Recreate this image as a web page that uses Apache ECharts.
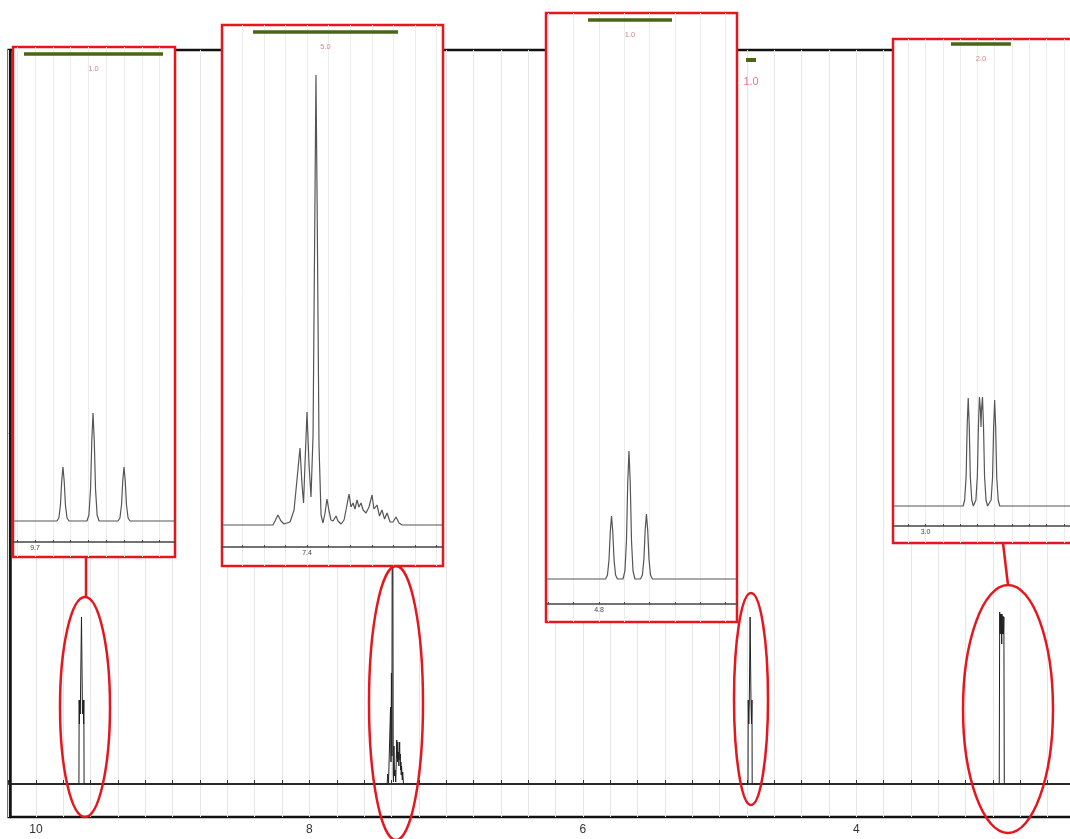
<!DOCTYPE html>
<html><head><meta charset="utf-8">
<script src="https://cdn.jsdelivr.net/npm/echarts@6/dist/echarts.min.js"></script>
<style>html,body{margin:0;padding:0;background:#fff}#c{width:1070px;height:839px}</style>
</head><body><div id="c"></div>
<script>
// ---------- data ----------
const mainTickLabels = [10, 8, 6, 4];
const mainRange = [10.2, 2.4];
const mainYRange = [-33, 734];

const mainSpectrum = [
  [10.2,0],
  [9.6860,0],[9.6843,84],[9.6826,60],[9.6800,84],[9.6760,70],[9.6674,167],[9.6600,70],[9.6550,84],[9.6517,60],[9.6500,84],[9.6483,0],
  [7.4315,0],[7.4269,10],[7.4213,1],[7.4157,3],[7.4065,77],[7.4032,22],[7.4000,111],[7.3963,28],[7.3917,450],[7.3870,10],[7.3852,2],[7.3815,38],[7.3778,8],[7.3731,14],[7.3685,2],[7.3611,44],[7.3593,26],[7.3574,32],[7.3556,22],[7.3537,42],[7.3519,25],[7.3500,32],[7.3454,18],[7.3398,42],[7.3380,24],[7.3352,30],[7.3329,14],[7.3306,22],[7.3282,9],[7.3259,18],[7.3204,4],[7.3176,12],[7.3120,0],
  [4.7915,0],[4.7901,84],[4.7860,60],[4.7820,84],[4.7763,167],[4.7700,84],[4.7660,60],[4.7625,84],[4.7611,0],
  [2.9540,0],[2.9506,172],[2.9470,150],[2.9441,170],[2.9400,150],[2.9376,170],[2.9358,140],[2.9341,170],[2.9300,150],[2.9270,168],[2.9230,150],[2.9200,167],[2.9170,0],
  [2.4,0]
];

const inset1Spectrum = [
  [9.71236,0],[9.6877,0],[9.6866,3],[9.6857,16],[9.6850,40],[9.6843,54],[9.6836,40],[9.6829,16],[9.6820,3],[9.6809,0],
  [9.6708,0],[9.6697,6],[9.6688,32],[9.6681,80],[9.6674,108],[9.6667,80],[9.6660,32],[9.6651,6],[9.6640,0],
  [9.6534,0],[9.6523,3],[9.6514,16],[9.6507,40],[9.6500,54],[9.6493,40],[9.6486,16],[9.6477,3],[9.6466,0],[9.62135,0]
];
const inset2Spectrum = [
  [7.4787,0],[7.4315,0],[7.4296,4],[7.4269,10],[7.4241,4],[7.4213,1],[7.4157,3],[7.4120,15],[7.4093,45],[7.4065,77],
  [7.4046,40],[7.4032,22],[7.4019,60],[7.4000,113],[7.3981,60],[7.3963,28],[7.3944,90],[7.3926,330],[7.3917,450],[7.3907,330],
  [7.3889,80],[7.3870,10],[7.3852,2],[7.3833,12],[7.3815,26],[7.3796,14],[7.3778,5],[7.3759,4],[7.3731,9],[7.3713,4],
  [7.3685,1],[7.3657,5],[7.3639,15],[7.3611,31],[7.3593,18],[7.3574,22],[7.3556,16],[7.3537,25],[7.3519,18],[7.3500,22],
  [7.3481,15],[7.3454,12],[7.3426,18],[7.3398,30],[7.3380,16],[7.3352,20],[7.3329,9],[7.3306,15],[7.3282,6],[7.3259,12],
  [7.3231,3],[7.3204,3],[7.3176,8],[7.3148,2],[7.3120,0],[7.2741,0]
];
const inset3Spectrum = [
  [4.84190,0],[4.7948,0],[4.7933,4],[4.7921,19],[4.7911,47],[4.7901,63],[4.7891,47],[4.7881,19],[4.7869,4],[4.7854,0],
  [4.7810,0],[4.7795,8],[4.7783,38],[4.7773,96],[4.7763,128],[4.7753,96],[4.7743,38],[4.7731,8],[4.7716,0],
  [4.7672,0],[4.7657,4],[4.7645,20],[4.7635,49],[4.7625,65],[4.7615,49],[4.7605,20],[4.7593,4],[4.7578,0],[4.69091,0]
];
const inset4Spectrum = [
  [3.03765,0],[2.9565,0],[2.9547,6],[2.9530,30],[2.9518,80],[2.9506,108],[2.9494,80],[2.9482,30],[2.9465,6],[2.9447,0],
  [2.9435,0],[2.9417,6],[2.9400,30],[2.9388,80],[2.9376,109],[2.9364,95],[2.9358,79],[2.9353,95],[2.9341,109],[2.9329,80],[2.9317,30],[2.9300,6],[2.9282,0],
  [2.9259,0],[2.9241,6],[2.9224,29],[2.9212,78],[2.9200,106],[2.9188,78],[2.9176,29],[2.9159,6],[2.9141,0],[2.82353,0]
];
const insetSpectra = [inset1Spectrum, inset2Spectrum, inset3Spectrum, inset4Spectrum];

const insetRanges = [[9.71236, 9.62135],[7.4787, 7.2741],[4.84190, 4.69091],[3.03765, 2.82353]];
const insetYRanges = [[-36, 474],[-41, 500],[-43, 566],[-37, 467]];
const insetTicks = [
  [9.71,9.70,9.69,9.68,9.67,9.66,9.65,9.64,9.63],
  [7.46,7.44,7.42,7.40,7.38,7.36,7.34,7.32,7.30,7.28],
  [4.84,4.82,4.80,4.78,4.76,4.74,4.72,4.70],
  [3.02,3.00,2.98,2.96,2.94,2.92,2.90,2.88,2.86,2.84]
];
const insetTickLabels = [9.7, 7.4, 4.8, 3.0];

const integralRanges = [[9.70618, 9.62809],[7.4500, 7.31574],[4.80870, 4.74229],[2.97059, 2.90118]];
const integralLevels = [467, 493, 559, 462];
const integralValues = ['1.0', '5.0', '1.0', '2.0'];
const mainIntegralRange = [4.8061, 4.7330];
const mainIntegralLevel = 724;
const mainIntegralValue = '1.0';

// ---------- layout / style ----------
const insetBoxes = [
  {left: 13, top: 47, width: 162, height: 510, axisOffset: -15},
  {left: 222, top: 25, width: 221, height: 541, axisOffset: -19},
  {left: 546, top: 13, width: 191, height: 609, axisOffset: -18},
  {left: 893, top: 39, width: 185, height: 504, axisOffset: -17}
];
const RED = '#e5161d';
const GREEN = '#4a6614';
const FONT = 'Liberation Sans';

const grids = [{left: 8.66, top: 50, width: 1066.3, height: 767, show: true, borderColor: '#111', borderWidth: 2.5,
  backgroundColor: 'transparent', z: 0, outerBoundsMode: 'none', containLabel: false}];
const xAxes = [{
  gridIndex: 0, type: 'value', inverse: true, min: mainRange[1], max: mainRange[0], interval: 0.2,
  axisLine: {show: true, lineStyle: {color: '#333', width: 2}},
  axisTick: {show: true, inside: true, length: 4, lineStyle: {color: '#333'}},
  splitLine: {show: true, lineStyle: {color: '#e6e6e6', width: 1}},
  axisLabel: {margin: 7, fontSize: 12, color: '#333', fontFamily: FONT,
    formatter: v => mainTickLabels.some(t => Math.abs(t - v) < 1e-6) ? String(Math.round(v)) : ''}
}];
const yAxes = [{gridIndex: 0, type: 'value', min: mainYRange[0], max: mainYRange[1], show: true, offset: -1.3, z: 1,
  axisLine: {show: true, onZero: false, lineStyle: {color: '#111', width: 2.5}},
  axisTick: {show: false}, axisLabel: {show: false}, splitLine: {show: false}}];
const series = [
  {type: 'line', xAxisIndex: 0, yAxisIndex: 0, data: mainSpectrum, showSymbol: false, symbol: 'none',
   lineStyle: {color: '#222', width: 1}, z: 2},
  {type: 'line', xAxisIndex: 0, yAxisIndex: 0, data: [[mainIntegralRange[0], mainIntegralLevel],[mainIntegralRange[1], mainIntegralLevel]],
   symbol: 'none', lineStyle: {color: GREEN, width: 4}, z: 2},
  {type: 'scatter', xAxisIndex: 0, yAxisIndex: 0, data: [[(mainIntegralRange[0] + mainIntegralRange[1]) / 2, mainIntegralLevel]],
   symbolSize: 1, itemStyle: {color: 'rgba(0,0,0,0)'},
   label: {show: true, position: 'bottom', distance: 16, formatter: mainIntegralValue, fontSize: 11, color: '#e05a5a', fontFamily: FONT}, z: 2}
];

insetBoxes.forEach((b, i) => {
  const gi = i + 1;
  grids.push({left: b.left, top: b.top, width: b.width, height: b.height, show: true,
    backgroundColor: '#fff', borderColor: RED, borderWidth: 2.5, z: 3, outerBoundsMode: 'none', containLabel: false});
  xAxes.push({
    gridIndex: gi, type: 'value', inverse: true, min: insetRanges[i][1], max: insetRanges[i][0],
    offset: b.axisOffset, z: 4,
    axisLine: {show: true, onZero: false, lineStyle: {color: '#444', width: 1.5}},
    axisTick: {show: true, inside: true, length: 2, customValues: insetTicks[i], lineStyle: {color: '#444'}},
    splitLine: {show: true, lineStyle: {color: '#ececec', width: 1}},
    axisLabel: {customValues: [insetTickLabels[i]], margin: 3, fontSize: 7, color: '#444', fontFamily: FONT,
      formatter: v => v.toFixed(1)}
  });
  yAxes.push({gridIndex: gi, type: 'value', min: insetYRanges[i][0], max: insetYRanges[i][1], show: false});
  series.push(
    {type: 'line', xAxisIndex: gi, yAxisIndex: gi, data: insetSpectra[i], symbol: 'none',
     lineStyle: {color: '#555', width: 1.2}, z: 5},
    {type: 'line', xAxisIndex: gi, yAxisIndex: gi, data: [[integralRanges[i][0], integralLevels[i]],[integralRanges[i][1], integralLevels[i]]],
     symbol: 'none', lineStyle: {color: GREEN, width: 3.5}, z: 5},
    {type: 'scatter', xAxisIndex: gi, yAxisIndex: gi, data: [[(integralRanges[i][0] + integralRanges[i][1]) / 2, integralLevels[i]]],
     symbolSize: 1, itemStyle: {color: 'rgba(0,0,0,0)'},
     label: {show: true, position: 'bottom', distance: 10, formatter: integralValues[i], fontSize: 7.5, color: '#c46a6a', fontFamily: FONT}, z: 5}
  );
});

// annotation ellipses and connectors
const ann = {fill: 'none', stroke: RED, lineWidth: 2.5};
const graphic = [
  {type: 'ellipse', shape: {cx: 85, cy: 707, rx: 25, ry: 110}, style: ann, z: 100},
  {type: 'ellipse', shape: {cx: 396, cy: 703, rx: 27, ry: 137}, style: ann, z: 100},
  {type: 'ellipse', shape: {cx: 751, cy: 699, rx: 17, ry: 106}, style: ann, z: 100},
  {type: 'ellipse', shape: {cx: 1008, cy: 709, rx: 45, ry: 124}, style: ann, z: 100},
  {type: 'line', shape: {x1: 86, y1: 557, x2: 86, y2: 597}, style: {stroke: RED, lineWidth: 2.5}, z: 100},
  {type: 'line', shape: {x1: 1003, y1: 543, x2: 1008, y2: 585}, style: {stroke: RED, lineWidth: 2.5}, z: 100}
];

const chart = echarts.init(document.getElementById('c'), null, {renderer: 'canvas'});
chart.setOption({
  animation: false,
  backgroundColor: '#fff',
  grid: grids, xAxis: xAxes, yAxis: yAxes, series: series, graphic: graphic
});
</script></body></html>
